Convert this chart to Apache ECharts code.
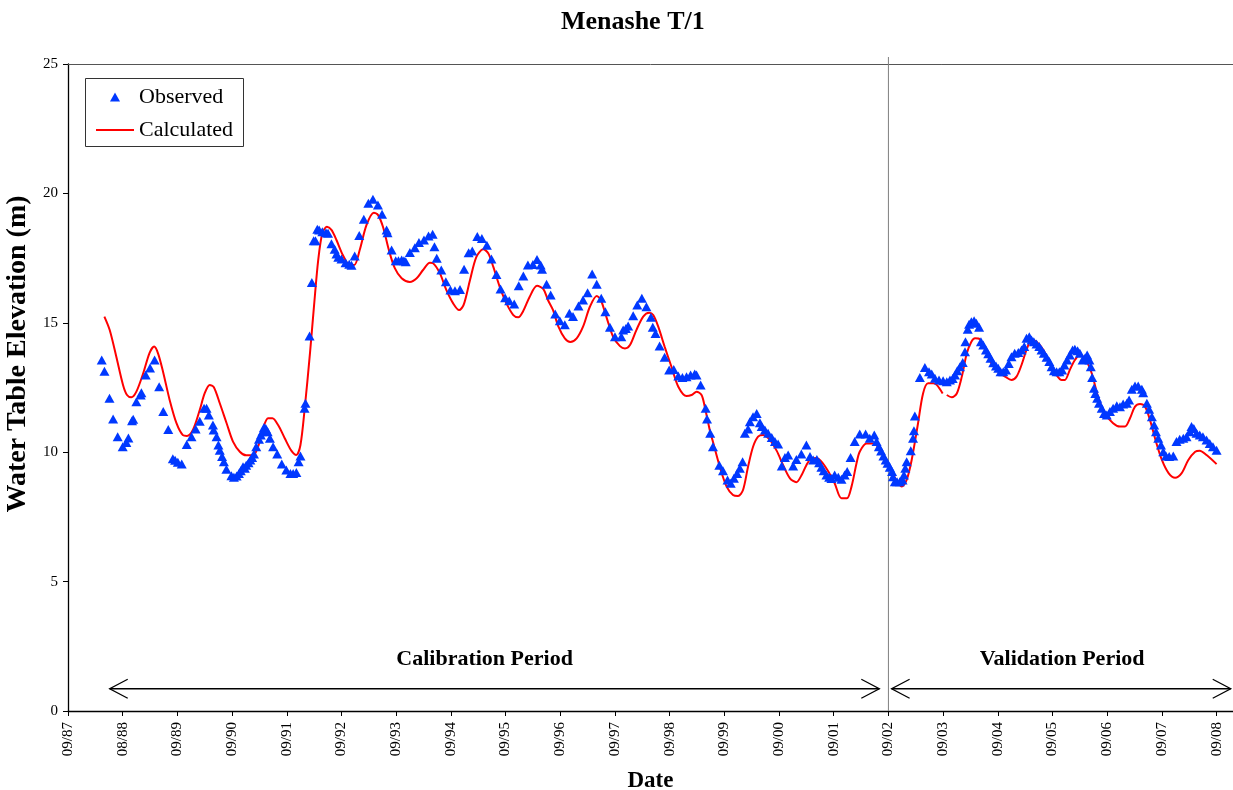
<!DOCTYPE html>
<html>
<head>
<meta charset="utf-8">
<title>Menashe T/1</title>
<script src="https://cdn.jsdelivr.net/npm/echarts@6/dist/echarts.min.js"></script>
<style>
  html, body { margin: 0; padding: 0; background: #fff; overflow: hidden; }
  #chart { width: 1233px; height: 790px; }
</style>
</head>
<body>
<div id="chart"></div>
<script>
// Time is counted in months from September 1987.
const tickLabels = ['09/87','08/88','09/89','09/90','09/91','09/92','09/93','09/94','09/95','09/96','09/97',
  '09/98','09/99','09/00','09/01','09/02','09/03','09/04','09/05','09/06','09/07','09/08'];

// Observed water table elevation (m)
const obsMonth = [
  7.4,8.0,9.1,9.9,10.9,12.0,12.8,13.25,14.05,14.3,15.0,15.95,16.1,17.05,18.0,19.0,20.0,20.9,22.0,23.0,
  23.5,24.1,24.95,26.05,27.1,28.0,28.9,29.85,30.4,30.9,31.8,31.95,32.6,33.0,33.3,33.8,34.2,34.75,35.85,36.4,
  37.0,37.5,37.9,38.4,38.8,39.1,39.6,40.0,40.4,40.8,41.3,41.9,42.3,42.65,43.0,43.4,43.8,44.3,45.0,45.9,
  46.9,47.9,48.8,49.4,50.1,50.6,51.0,51.9,52.1,53.0,53.5,53.9,54.3,54.7,55.1,55.8,56.6,57.05,57.8,58.5,
  58.9,59.3,60.0,60.9,61.7,62.2,62.9,63.9,64.9,65.9,66.9,68.0,68.9,69.9,70.1,71.0,71.9,72.5,73.2,73.7,
  74.1,75.0,76.1,77.0,78.1,79.1,80.0,80.4,80.9,81.9,82.9,83.9,84.9,86.0,86.9,87.9,88.7,89.8,90.8,91.9,
  92.9,94.0,94.9,95.9,96.8,97.9,98.9,99.9,100.9,102.0,102.9,103.7,104.0,105.0,105.9,106.9,107.9,109.0,110.0,110.8,
  112.0,113.0,114.0,115.0,116.0,117.0,117.9,118.9,120.0,121.4,121.8,122.4,122.9,124.0,124.9,125.9,126.9,127.9,128.3,128.9,
  129.8,130.9,131.9,132.9,133.9,134.8,135.7,136.6,137.5,137.9,138.8,139.9,140.2,140.9,141.5,142.9,143.7,144.7,145.4,146.1,
  146.8,147.4,148.0,148.5,149.2,149.6,150.3,151.1,151.8,152.2,152.9,153.6,154.4,155.1,155.8,156.6,157.3,158.0,159.1,159.8,
  160.9,162.0,162.8,163.5,164.3,164.8,165.3,165.8,166.4,167.0,167.5,168.2,169.0,169.7,170.4,170.95,171.7,172.6,173.7,175.0,
  175.9,176.9,177.4,177.9,178.4,178.9,179.4,179.8,180.3,180.8,181.0,181.4,181.9,182.5,183.1,183.4,183.7,184.0,184.9,185.4,
  185.6,185.8,186.9,188.0,188.9,189.5,190.2,191.1,192.0,192.8,193.5,194.1,194.6,195.1,195.7,196.3,196.8,196.9,197.4,197.7,
  198.2,198.8,199.3,199.9,200.3,200.8,201.4,201.9,202.4,203.0,203.6,204.1,204.6,205.2,205.8,206.4,207.0,207.7,208.5,209.2,
  209.8,210.3,210.9,211.4,211.9,212.5,213.1,213.6,214.1,214.7,215.3,215.8,216.3,216.9,217.5,218.1,218.6,219.2,219.8,220.4,
  220.9,221.5,222.0,222.6,223.1,223.6,224.1,224.4,224.7,225.1,225.4,225.8,226.2,226.8,227.3,227.9,228.6,229.3,230.1,230.8,
  231.5,232.3,232.8,233.4,234.1,234.8,235.6,235.9,236.7,237.2,237.8,238.3,238.7,239.2,239.8,240.3,240.9,241.6,242.5,243.2,
  243.9,244.7,245.4,246.1,246.5,247.0,247.6,248.3,249.0,249.8,250.5,251.2,252.0
];
const obsLevel = [
  13.56,13.13,12.08,11.28,10.60,10.21,10.37,10.55,11.22,11.27,11.95,12.21,12.30,12.98,13.25,13.56,12.53,11.57,10.88,9.75,
  9.69,9.61,9.54,10.30,10.60,10.90,11.20,11.70,11.70,11.44,11.05,10.86,10.60,10.28,10.08,9.83,9.63,9.34,9.09,9.03,
  9.08,9.18,9.28,9.44,9.38,9.50,9.59,9.70,9.80,9.93,10.21,10.50,10.66,10.79,10.95,10.92,10.79,10.54,10.21,9.93,
  9.54,9.31,9.18,9.18,9.22,9.63,9.85,11.70,11.89,14.49,16.56,18.17,18.17,18.61,18.59,18.52,18.48,18.46,18.05,17.84,
  17.66,17.53,17.47,17.32,17.26,17.22,17.58,18.37,19.00,19.62,19.77,19.55,19.19,18.59,18.48,17.81,17.40,17.40,17.43,17.40,
  17.36,17.72,17.90,18.10,18.20,18.35,18.42,17.94,17.49,17.04,16.59,16.27,16.24,16.29,17.07,17.71,17.77,18.33,18.26,18.00,
  17.47,16.87,16.31,15.97,15.85,15.73,16.43,16.81,17.23,17.25,17.45,17.23,17.07,16.49,16.07,15.34,15.08,14.92,15.37,15.24,
  15.65,15.88,16.16,16.89,16.49,15.95,15.43,14.83,14.46,14.46,14.72,14.78,14.88,15.27,15.69,15.95,15.62,15.21,14.83,14.59,
  14.10,13.67,13.18,13.20,12.94,12.89,12.92,12.98,13.02,12.98,12.60,11.70,11.28,10.73,10.21,9.50,9.28,8.93,8.80,8.99,
  9.18,9.38,9.63,10.73,10.90,11.18,11.37,11.50,11.14,10.99,10.86,10.73,10.57,10.41,10.32,9.47,9.80,9.89,9.47,9.72,
  9.93,10.28,9.83,9.70,9.72,9.59,9.42,9.28,9.12,9.03,8.98,9.12,9.03,8.95,9.12,9.25,9.80,10.41,10.70,10.70,
  10.54,10.66,10.41,10.21,10.05,9.85,9.70,9.57,9.42,9.25,9.05,8.86,8.86,8.86,8.93,9.12,9.38,9.63,10.06,10.54,
  10.83,11.40,12.89,13.27,13.11,13.02,12.86,12.79,12.76,12.72,12.79,12.85,12.98,13.15,13.30,13.47,13.88,14.27,14.75,14.94,
  15.04,15.08,14.98,14.83,14.27,14.14,13.95,13.80,13.63,13.46,13.33,13.24,13.11,13.11,13.18,13.43,13.69,13.82,13.85,13.95,
  14.08,14.40,14.46,14.34,14.27,14.18,14.08,13.95,13.82,13.67,13.50,13.30,13.15,13.11,13.11,13.18,13.37,13.56,13.76,13.95,
  13.98,13.92,13.82,13.56,13.63,13.76,13.56,13.30,12.89,12.47,12.27,12.08,11.89,11.70,11.50,11.44,11.57,11.70,11.79,11.76,
  11.86,11.89,12.02,12.43,12.56,12.56,12.43,12.30,11.89,11.66,11.37,11.05,10.79,10.54,10.28,10.02,9.85,9.83,9.85,10.41,
  10.50,10.54,10.60,10.79,10.99,10.92,10.73,10.66,10.60,10.47,10.34,10.21,10.08
];

// Calculated water table elevation (m); null marks the break in the model run
const calcMonth = [
  7.98,9.15,10.6,12.07,12.95,13.9,15.0,16.5,17.9,18.9,19.75,20.85,22.3,23.8,25.2,26.1,27.4,28.9,30.0,31.1,
  32.0,33.3,34.8,36.2,37.7,39.1,40.6,41.7,42.8,43.9,44.85,46.1,47.55,49.0,50.1,51.0,51.9,53.1,54.0,54.9,
  55.8,56.8,57.8,58.9,60.3,61.8,62.8,64.0,65.5,67.1,68.0,69.1,70.4,71.7,73.2,75.0,76.5,77.9,79.4,80.1,
  81.6,83.0,84.5,85.8,86.8,88.2,89.6,91.1,92.2,93.3,94.7,96.2,97.7,98.8,99.8,101.3,102.9,104.3,105.3,106.4,
  107.6,109.0,110.2,111.6,113.0,114.5,116.0,116.9,118.1,119.6,121.1,122.2,123.3,124.7,126.2,127.5,128.4,129.5,130.9,132.4,
  133.9,135.7,136.8,137.9,139.0,139.7,140.8,141.5,143.0,144.5,145.9,147.0,148.1,149.2,150.3,151.4,152.5,154.0,155.5,156.9,
  158.4,159.8,160.9,162.0,163.1,164.2,165.5,167.0,168.2,169.7,170.9,171.9,173.0,173.7,175.2,176.7,178.0,179.0,180.0,181.0,
  182.0,182.9,184.0,185.1,186.5,187.6,188.7,189.8,190.6,191.9,192.3,192.8,193.9,195.0,196.1,197.2,198.2,199.0,200.1,201.2,
  202.6,204.1,205.6,207.0,208.1,209.2,210.3,211.4,212.5,214.0,215.4,216.9,218.0,218.7,219.8,220.9,222.0,223.1,224.6,226.0,
  227.5,229.3,230.8,231.9,233.0,234.1,235.2,236.3,237.4,238.6,240.0,241.5,242.9,244.3,245.8,247.3,248.3,249.8,252.0
];
const calcLevel = [
  15.24,14.72,13.69,12.60,12.21,12.12,12.34,13.05,13.84,14.08,13.82,13.11,12.02,11.12,10.66,10.63,10.86,11.63,12.28,12.60,
  12.51,11.89,11.12,10.41,10.02,9.88,9.88,10.21,10.92,11.31,11.31,11.05,10.54,10.06,9.89,10.28,11.63,13.85,15.70,17.43,
  18.46,18.71,18.59,18.20,17.62,17.23,17.23,17.81,18.78,19.25,19.17,18.71,17.81,17.11,16.72,16.58,16.72,17.04,17.32,17.30,
  16.91,16.27,15.75,15.49,15.69,16.65,17.55,17.84,17.69,17.17,16.40,15.75,15.30,15.21,15.43,16.01,16.43,16.30,15.88,15.50,
  14.85,14.40,14.26,14.40,14.85,15.62,16.04,15.88,15.24,14.46,14.10,14.01,14.14,14.72,15.24,15.39,15.30,14.85,14.08,13.30,
  12.53,12.17,12.21,12.34,12.21,11.76,10.86,10.40,9.44,8.67,8.35,8.31,8.54,9.44,10.21,10.60,10.66,10.47,10.05,9.50,
  8.99,8.84,9.10,9.50,9.76,9.78,9.60,9.20,8.80,8.22,8.22,8.67,9.57,10.02,10.34,10.34,10.15,9.85,9.50,9.15,
  8.85,8.67,8.93,9.70,11.12,12.27,12.66,12.66,12.60,12.27,null,12.21,12.12,12.27,12.92,13.82,14.27,14.40,14.36,13.95,
  13.43,13.11,12.92,12.79,12.92,13.37,13.95,14.34,14.27,13.95,13.43,12.98,12.79,12.79,13.18,13.56,13.76,13.63,13.05,12.14,
  11.50,11.12,10.99,10.99,11.31,11.76,11.86,11.76,11.24,10.47,9.70,9.18,9.01,9.18,9.70,10.02,10.06,9.89,9.54
];

// Model periods: start month, end month, label position
const periodStart = [9.15, 180.7];
const periodEnd = [178.0, 255.1];
const periodNames = ['Calibration Period', 'Validation Period'];
const periodLabelAt = [91.4, 218.1];
const splitMonth = 180;       // 09/02, end of calibration
const arrowLevel = 0.86;
const periodLabelLevel = 2.0;

const SERIF = '"Liberation Serif", "DejaVu Serif", serif';

const observed = obsMonth.map((m, i) => [m, obsLevel[i]]);
const calculated = calcMonth.map((m, i) => [m, calcLevel[i]]);
const periods = periodStart.map((s, i) => [s, periodEnd[i], periodLabelAt[i], i]);
const tickValues = tickLabels.map((_, i) => i * 12);

const chart = echarts.init(document.getElementById('chart'), null, { renderer: 'canvas' });

// Double-headed arrow with open heads and its caption
function renderPeriod(params, api) {
  const i = api.value(3);
  const a = api.coord([api.value(0), arrowLevel]);
  const b = api.coord([api.value(1), arrowLevel]);
  const t = api.coord([api.value(2), periodLabelLevel]);
  const ln = { stroke: '#000', lineWidth: 1.3, fill: null };
  return {
    type: 'group',
    children: [
      { type: 'line', shape: { x1: a[0], y1: a[1], x2: b[0], y2: b[1] }, style: ln },
      { type: 'polyline', shape: { points: [[a[0] + 18, a[1] - 9.5], a, [a[0] + 18, a[1] + 9.5]] }, style: ln },
      { type: 'polyline', shape: { points: [[b[0] - 18, b[1] - 9.5], b, [b[0] - 18, b[1] + 9.5]] }, style: ln },
      { type: 'text', x: t[0], y: t[1],
        style: { text: periodNames[i], align: 'center', verticalAlign: 'middle',
                 font: 'bold 22px ' + SERIF, fill: '#000' } }
    ]
  };
}

// Vertical divider between the two periods
function renderSplit(params, api) {
  const bottom = api.coord([api.value(0), 0]);
  const top = api.coord([api.value(0), 25]);
  return {
    type: 'line',
    shape: { x1: bottom[0], y1: bottom[1], x2: top[0], y2: top[1] - 7 },
    style: { stroke: '#7f7f7f', lineWidth: 1 }
  };
}

const legendText = { fontFamily: SERIF, fontSize: 22, color: '#000', lineHeight: 22 };

chart.setOption({
  animation: false,
  backgroundColor: '#fff',
  title: {
    text: 'Menashe T/1',
    left: 561, top: 9, padding: 0,
    textStyle: { fontFamily: SERIF, fontWeight: 'bold', fontSize: 26, color: '#000' }
  },
  legend: [{
    data: [{ name: 'Observed', icon: 'triangle' }],
    left: 110, top: 86, padding: 0,
    itemWidth: 10, itemHeight: 9,
    selectedMode: false,
    textStyle: Object.assign({ padding: [0, 0, 0, 14] }, legendText)
  }, {
    data: [{ name: 'Calculated', icon: 'rect' }],
    left: 96, top: 119, padding: 0,
    itemWidth: 38, itemHeight: 2,
    selectedMode: false,
    textStyle: legendText
  }],
  grid: { left: 68, right: 0, top: 64, bottom: 79, containLabel: false, outerBoundsMode: 'none' },
  xAxis: [{
    type: 'value', min: 0, max: 255.6, interval: 12,
    name: 'Date', nameLocation: 'middle', nameGap: 59,
    nameTextStyle: { fontFamily: SERIF, fontWeight: 'bold', fontSize: 23, color: '#000' },
    axisLine: { lineStyle: { color: '#000', width: 1.3 } },
    axisTick: { customValues: tickValues, length: 5, lineStyle: { color: '#000' } },
    axisLabel: {
      customValues: tickValues, rotate: 90, margin: 11,
      fontFamily: SERIF, fontSize: 15, color: '#000',
      formatter: v => tickLabels[Math.round(v / 12)] || ''
    },
    splitLine: { show: false }
  }, {
    type: 'value', position: 'top', min: 0, max: 255.6,
    axisLine: { show: true, lineStyle: { color: '#555', width: 1 } },
    axisTick: { show: false }, axisLabel: { show: false }, splitLine: { show: false }
  }],
  yAxis: {
    type: 'value', min: 0, max: 25, interval: 5,
    axisLine: { show: true, lineStyle: { color: '#000', width: 1.3 } },
    axisTick: { show: true, length: 5, lineStyle: { color: '#000' } },
    axisLabel: { margin: 10, fontFamily: SERIF, fontSize: 15, color: '#000' },
    splitLine: { show: false }
  },
  graphic: [{
    type: 'rect', shape: { x: 85.5, y: 78.5, width: 158, height: 68 },
    style: { fill: '#fff', stroke: '#333', lineWidth: 1 }, z: 0, silent: true
  }, {
    type: 'text', x: 18, y: 354, rotation: Math.PI / 2,
    style: { text: 'Water Table Elevation (m)', align: 'center', verticalAlign: 'middle',
             font: 'bold 28px ' + SERIF, fill: '#000' }
  }],
  series: [
    {
      name: 'Observed', type: 'scatter', data: observed,
      symbol: 'triangle', symbolSize: [10, 9],
      itemStyle: { color: '#0038ff', opacity: 1 }, z: 3
    },
    {
      name: 'Calculated', type: 'line', data: calculated,
      showSymbol: false, symbol: 'none', smooth: 0.3, connectNulls: false,
      lineStyle: { color: '#ff0000', width: 2 }, itemStyle: { color: '#ff0000' }, z: 2
    },
    {
      name: 'periods', type: 'custom', data: periods, renderItem: renderPeriod,
      encode: { x: [0, 1], y: [] }, silent: true, clip: false, z: 1
    },
    {
      name: 'split', type: 'custom', data: [[splitMonth]], renderItem: renderSplit,
      encode: { x: 0 }, silent: true, clip: false, z: 1
    }
  ]
});
</script>
</body>
</html>
